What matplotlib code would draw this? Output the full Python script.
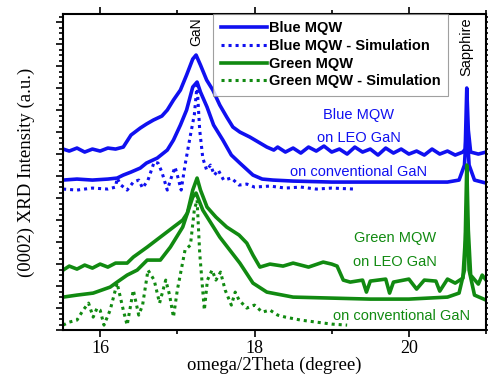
import matplotlib
matplotlib.use("Agg")
import matplotlib.pyplot as plt
from matplotlib.ticker import MultipleLocator, NullFormatter
from matplotlib.lines import Line2D

BLUE = "#1010f0"
GREEN = "#118a11"

# ---- data (degree, a.u.) ----
blue_leo_x = [15.52, 15.6, 15.7, 15.8, 15.9, 16.0, 16.1, 16.2, 16.3, 16.4, 16.52, 16.6, 16.69, 16.8,
              16.87, 16.95, 17.04, 17.12, 17.2, 17.243, 17.3, 17.38, 17.46, 17.55, 17.64, 17.72,
              17.81, 17.94, 18.05, 18.16, 18.25, 18.3, 18.4, 18.5, 18.6, 18.7, 18.8, 18.9, 19.0,
              19.1, 19.2, 19.3, 19.4, 19.5, 19.6, 19.7, 19.8, 19.9, 20.0, 20.1, 20.2, 20.3, 20.4,
              20.5, 20.6, 20.7, 20.73, 20.75, 20.77, 20.8, 20.9, 21.0]
blue_leo_y = [181, 179, 182, 178, 181, 179, 182, 181, 183, 195, 202, 206, 210, 214,
              220, 230, 240, 255, 271, 275, 265, 250, 240, 225, 213, 203,
              198, 193, 188, 183, 180, 183, 178, 182, 177, 183, 179, 184, 178, 181,
              176, 183, 178, 181, 175, 182, 177, 181, 176, 179, 175, 181, 176, 179,
              175, 178, 181, 242, 200, 178, 176, 178]

blue_conv_x = [15.52, 15.7, 15.9, 16.1, 16.22, 16.3, 16.4, 16.52, 16.6, 16.74, 16.87, 16.95, 17.04,
               17.12, 17.2, 17.256, 17.3, 17.385, 17.47, 17.59, 17.7, 17.81, 17.98, 18.1, 18.24,
               18.5, 19.0, 19.5, 20.0, 20.5, 20.65, 20.72, 20.75, 20.78, 20.85, 21.0]
blue_conv_y = [150, 151, 150, 151, 152, 155, 158, 162, 167, 172, 180, 190, 205,
               220, 243, 248, 238, 223, 205, 190, 175, 167, 155, 151, 150,
               149, 148, 148, 148, 148, 150, 165, 205, 165, 150, 147]

blue_sim_x = [15.52, 15.7, 15.9, 16.1, 16.2, 16.22, 16.27, 16.35, 16.43, 16.5, 16.55, 16.62, 16.7,
              16.75, 16.8, 16.87, 16.92, 16.97, 17.0, 17.05, 17.1, 17.17, 17.22, 17.256, 17.29,
              17.33, 17.38, 17.43, 17.48, 17.53, 17.6, 17.7, 17.8, 17.9, 18.0, 18.2, 18.4, 18.6,
              18.8, 19.0, 19.3]
blue_sim_y = [141, 140, 142, 141, 143, 152, 145, 140, 148, 150, 142, 150, 168,
              167, 158, 140, 152, 163, 155, 140, 165, 195, 215, 245, 200,
              172, 160, 165, 155, 160, 150, 152, 145, 146, 143, 144, 142, 143,
              141, 142, 141]

green_leo_x = [15.52, 15.6, 15.7, 15.8, 15.9, 16.0, 16.1, 16.2, 16.35, 16.43, 16.61, 16.78, 16.95,
               17.07, 17.13, 17.2, 17.256, 17.3, 17.385, 17.5, 17.64, 17.8, 17.9, 17.98, 18.07,
               18.2, 18.37, 18.5, 18.7, 18.89, 19.0, 19.07, 19.15, 19.24, 19.4, 19.45, 19.5,
               19.7, 19.75, 19.8, 20.0, 20.1, 20.2, 20.35, 20.4, 20.5, 20.6, 20.7, 20.73, 20.75,
               20.77, 20.8, 20.9, 20.95, 21.0]
green_leo_y = [60, 64, 61, 65, 62, 66, 63, 67, 67, 73, 83, 93, 103,
               110, 117, 140, 152, 140, 123, 113, 103, 95, 87, 75, 63,
               66, 64, 67, 63, 68, 66, 64, 50, 48, 50, 38, 49,
               51, 37, 48, 51, 41, 50, 49, 39, 51, 47, 52, 90, 165,
               100, 55, 46, 55, 50]

green_conv_x = [15.52, 15.7, 15.91, 16.13, 16.22, 16.35, 16.48, 16.61, 16.7, 16.78, 16.91, 17.07,
                17.2, 17.243, 17.33, 17.55, 17.81, 17.98, 18.16, 18.5, 19.0, 19.5, 20.0, 20.5,
                20.65, 20.72, 20.75, 20.78, 20.85, 21.0]
green_conv_y = [33, 35, 37, 43, 48, 55, 60, 70, 70, 70, 83, 103,
                133, 137, 120, 93, 67, 47, 38, 33, 32, 31, 31, 33,
                37, 60, 125, 60, 35, 30]

green_sim_x = [15.52, 15.6, 15.7, 15.78, 15.85, 15.91, 15.96, 16.0, 16.05, 16.13, 16.22, 16.3,
               16.35, 16.43, 16.5, 16.55, 16.62, 16.7, 16.77, 16.85, 16.9, 16.95, 17.0, 17.1,
               17.17, 17.22, 17.256, 17.29, 17.35, 17.39, 17.45, 17.5, 17.56, 17.62, 17.7, 17.75,
               17.8, 17.9, 18.0, 18.1, 18.2, 18.3, 18.4, 18.6, 18.8, 19.0, 19.2]
green_sim_y = [5, 8, 10, 20, 27, 13, 22, 20, 5, 20, 47, 20,
               5, 40, 15, 25, 60, 50, 27, 50, 35, 13, 40, 80,
               85, 120, 130, 77, 20, 50, 60, 50, 58, 40, 25, 38,
               30, 22, 25, 18, 20, 15, 13, 10, 8, 6, 5]

legend_labels = ["Blue MQW", "Blue MQW - Simulation", "Green MQW", "Green MQW - Simulation"]
x_ticks = [16, 18, 20]

# ---- figure ----
fig = plt.figure(figsize=(4.89, 3.79), dpi=100)
ax = fig.add_axes([0.129, 0.129, 0.865, 0.834])

lw = 2.6
dot = (0, (1, 1.3))
ax.plot(blue_leo_x, blue_leo_y, color=BLUE, lw=lw)
ax.plot(blue_conv_x, blue_conv_y, color=BLUE, lw=lw)
ax.plot(blue_sim_x, blue_sim_y, color=BLUE, lw=2.2, ls=dot)
ax.plot(green_leo_x, green_leo_y, color=GREEN, lw=lw)
ax.plot(green_conv_x, green_conv_y, color=GREEN, lw=lw)
ax.plot(green_sim_x, green_sim_y, color=GREEN, lw=2.2, ls=dot)

ax.set_xlim(15.52, 21.0)
ax.set_ylim(0, 316)

ax.xaxis.set_major_locator(MultipleLocator(2))
ax.xaxis.set_minor_locator(MultipleLocator(1))
ax.yaxis.set_major_locator(MultipleLocator(22))
ax.yaxis.set_minor_locator(MultipleLocator(5.5))
ax.yaxis.set_major_formatter(NullFormatter())
ax.tick_params(which="both", direction="out", top=True, right=True, width=1.2)
ax.tick_params(which="major", length=5)
ax.tick_params(which="minor", length=3)
ax.set_xticks(x_ticks)
ax.set_xticklabels([str(t) for t in x_ticks], family="Liberation Serif", fontsize=13)
ax.tick_params(axis="x", pad=2)
for s in ax.spines.values():
    s.set_linewidth(1.5)

ax.set_xlabel("omega/2Theta (degree)", family="Liberation Serif", fontsize=13.5, labelpad=0)
ax.set_ylabel("(0002) XRD Intensity (a.u.)", family="Liberation Serif", fontsize=13.5, labelpad=12)

handles = [Line2D([], [], color=BLUE, lw=2.6),
           Line2D([], [], color=BLUE, lw=2.2, ls=dot),
           Line2D([], [], color=GREEN, lw=2.6),
           Line2D([], [], color=GREEN, lw=2.2, ls=dot)]
leg = ax.legend(handles, legend_labels, loc="upper left",
                bbox_to_anchor=(0.355, 0.5, 0.555, 0.5), mode="expand",
                prop={"family": "Liberation Sans", "weight": "bold", "size": 10.5},
                frameon=True, fancybox=False, handlelength=3.2, handletextpad=0.15,
                labelspacing=0.25, borderpad=0.5, borderaxespad=0)
leg.get_frame().set_edgecolor("#888888")
leg.get_frame().set_linewidth(0.8)

sans = "Liberation Sans"
ax.text(17.25, 313, "GaN", rotation=90, ha="center", va="top", family=sans, fontsize=10)
ax.text(20.75, 313, "Sapphire", rotation=90, ha="center", va="top", family=sans, fontsize=10.5)
ax.text(19.35, 215, "Blue MQW", color=BLUE, ha="center", va="center", family=sans, fontsize=10.5)
ax.text(19.35, 192, "on LEO GaN", color=BLUE, ha="center", va="center", family=sans, fontsize=10.5)
ax.text(19.35, 158, "on conventional GaN", color=BLUE, ha="center", va="center", family=sans, fontsize=10.5)
ax.text(19.82, 92, "Green MQW", color=GREEN, ha="center", va="center", family=sans, fontsize=10.5)
ax.text(19.82, 68, "on LEO GaN", color=GREEN, ha="center", va="center", family=sans, fontsize=10.5)
ax.text(19.9, 14, "on conventional GaN", color=GREEN, ha="center", va="center", family=sans, fontsize=10.5)

fig.savefig("out.png", dpi=100)
